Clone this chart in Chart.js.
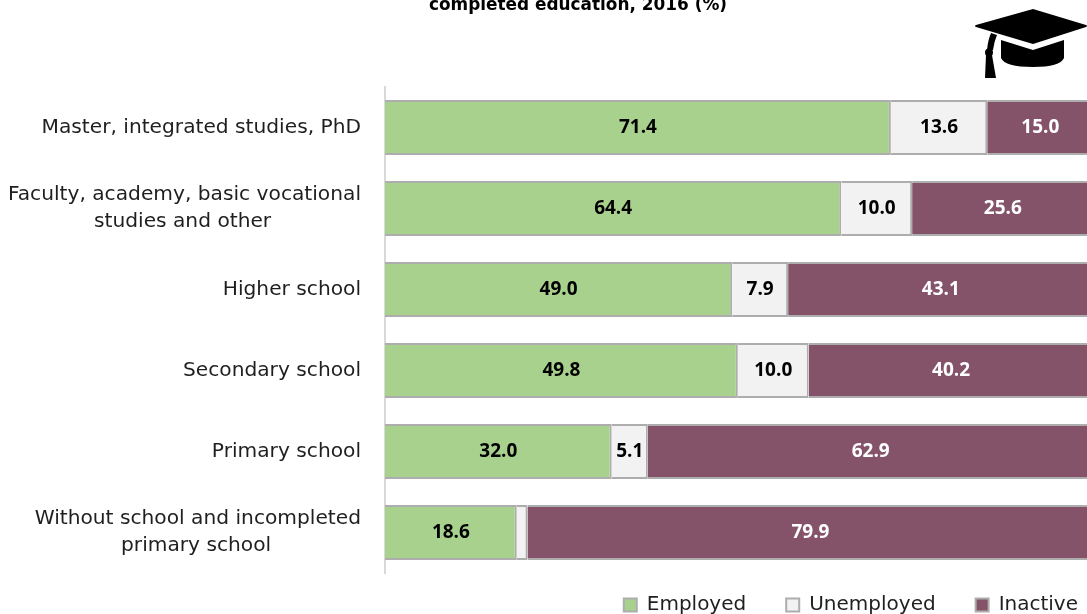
<!DOCTYPE html>
<html>
<head>
<meta charset="utf-8">
<title>Completed education, 2016</title>
<script src="https://cdn.jsdelivr.net/npm/chart.js@4"></script>
<style>
html, body { margin: 0; padding: 0; width: 1087px; height: 614px; overflow: hidden; background: #fff; }
#wrap { position: relative; width: 1087px; height: 614px; overflow: hidden; }
#chart { position: absolute; left: 0; top: 0; }
#title { position: absolute; left: 328px; width: 500px; top: -6px; text-align: center; font: bold 16.9px "DejaVu Sans", sans-serif; color: #000; }
#cap { position: absolute; left: 960px; top: 0; }
</style>
</head>
<body>
<div id="wrap">
    <canvas id="chart" width="1118" height="643" style="width:1118px;height:643px"></canvas>
    <div id="title">completed education, 2016 (%)</div>
    <svg id="cap" width="127" height="90" viewBox="960 0 127 90">
        <path d="M1033 9 L1086 25 Q1088 26 1086 27 L1033 44 L976 27 Q974 26 976 25 Z" fill="#000"/>
        <path d="M1001 40 L1033 50 L1064 40 V58 Q1060 67 1033 67 Q1005 67 1001 58 Z" fill="#000"/>
        <path d="M991 33 L997 35 Q994 42 993 50 L987 50 Q988 40 991 33 Z" fill="#000"/>
        <circle cx="989" cy="52.5" r="4" fill="#000"/>
        <path d="M986 55 L992 55 L996 78 L985 78 Z" fill="#000"/>
    </svg>
</div>
<script>
const categories = [
    ['Master, integrated studies, PhD'],
    ['Faculty, academy, basic vocational', 'studies and other'],
    ['Higher school'],
    ['Secondary school'],
    ['Primary school'],
    ['Without school and incompleted', 'primary school']
];
const employed = [71.4, 64.4, 49.0, 49.8, 32.0, 18.6];
const unemployed = [13.6, 10.0, 7.9, 10.0, 5.1, 1.5];
const inactive = [15.0, 25.6, 43.1, 40.2, 62.9, 79.9];

const tickFont = { family: '"DejaVu Sans", sans-serif', size: 20.2, lineHeight: 1.34 };
const measure = document.createElement('canvas').getContext('2d');
measure.font = tickFont.size + 'px ' + tickFont.family;

// second line of a wrapped label sits centred under the first
function centerLines(lines) {
    if (lines.length < 2) return lines;
    const gap = measure.measureText(lines[0]).width - measure.measureText(lines[1]).width;
    const spaces = Math.round(gap / 2 / measure.measureText(' ').width);
    return [lines[0], lines[1] + ' '.repeat(spaces)];
}

const valueLabels = {
    id: 'valueLabels',
    afterDatasetsDraw(chart) {
        const ctx = chart.ctx;
        ctx.save();
        ctx.font = 'bold 19px "Open Sans", sans-serif';
        ctx.textAlign = 'center';
        ctx.textBaseline = 'middle';
        chart.data.datasets.forEach((ds, i) => {
            chart.getDatasetMeta(i).data.forEach((bar, j) => {
                const value = ds.data[j];
                if (value < 3) return;
                ctx.fillStyle = i === 2 ? '#fff' : '#000';
                ctx.fillText(value.toFixed(1), (bar.base + bar.x) / 2, bar.y);
            });
        });
        ctx.restore();
    }
};

// legend sits closer to the plot than its item padding would allow
const legendUp = {
    id: 'legendUp',
    afterLayout(chart) {
        chart.legend.top -= 18;
        chart.legend.bottom -= 18;
    }
};

new Chart(document.getElementById('chart'), {
    type: 'bar',
    data: {
        labels: categories,
        datasets: [
            { label: 'Employed', data: employed, backgroundColor: '#A9D18E' },
            { label: 'Unemployed', data: unemployed, backgroundColor: '#F2F2F2' },
            { label: 'Inactive', data: inactive, backgroundColor: '#845369' }
        ]
    },
    options: {
        indexAxis: 'y',
        responsive: false,
        animation: false,
        layout: { padding: { top: 87, bottom: 0, left: 0, right: 0 } },
        datasets: {
            bar: {
                stacked: true,
                barPercentage: 1,
                categoryPercentage: 0.68,
                borderColor: '#ADADAD',
                borderWidth: 2
            }
        },
        scales: {
            x: { stacked: true, display: false, min: 0, max: 103.46 },
            y: {
                stacked: true,
                afterFit(scale) { scale.width = 385; },
                grid: { display: false },
                border: { color: '#D9D9D9', width: 2 },
                ticks: {
                    padding: 16,
                    color: '#1F1F1F',
                    font: tickFont,
                    callback(value) { return centerLines(categories[value]); }
                }
            }
        },
        plugins: {
            title: { display: false },
            tooltip: { enabled: false },
            legend: {
                position: 'bottom',
                align: 'end',
                labels: {
                    boxWidth: 13,
                    boxHeight: 13,
                    padding: 40,
                    color: '#1F1F1F',
                    font: { family: '"DejaVu Sans", sans-serif', size: 20 }
                }
            }
        }
    },
    plugins: [valueLabels, legendUp]
});
</script>
</body>
</html>
